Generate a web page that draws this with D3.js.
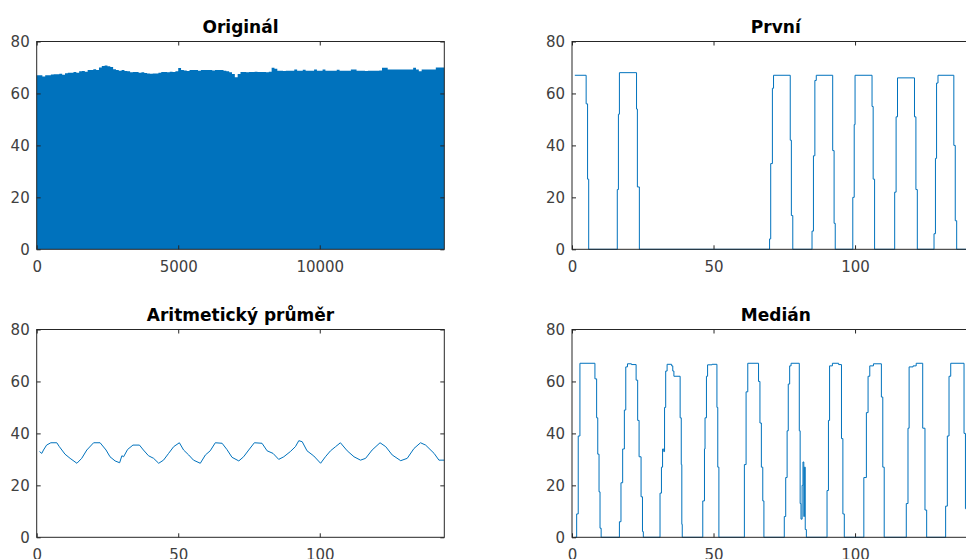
<!DOCTYPE html>
<html>
<head>
<meta charset="utf-8">
<script src="https://cdn.jsdelivr.net/npm/d3@7"></script>
<style>
  body { margin: 0; background: #fff; }
  svg { display: block; font-family: "DejaVu Sans", sans-serif; }
</style>
</head>
<body>
<svg id="chart" width="966" height="559"></svg>
<script>
// tick values
var yTicks = [0, 20, 40, 60, 80];
var xTicksOriginal = [0, 5000, 10000];
var xTicksShort = [0, 50, 100];

// Originál: top envelope of the raw signal, one value per 100 samples
var originalTop = [
  67, 67, 66.5, 67, 67, 67.3, 67.4, 67.4, 67.6, 67.2,
  67.8, 68, 68, 68.3, 68, 68.5, 68.6, 68.4, 69, 69,
  69.3, 69, 70, 70.6, 70.8, 70.5, 70.2, 69.3, 69, 68.7,
  69, 68.6, 68.5, 68.2, 68.3, 68.3, 68, 68.2, 67.9, 67.7,
  67.6, 67.7, 67.7, 68, 68.3, 68.3, 68.2, 68.4, 68.3, 68.5,
  69.8, 69, 68.8, 68.6, 69, 69, 69, 68.7, 69, 69,
  69, 69, 68.8, 69, 69, 69, 68.7, 68.5, 68.2, 67.5,
  66.2, 67.5, 68.3, 68.3, 68.2, 68.3, 68.3, 68.4, 68.3, 68.3,
  68.3, 68.2, 68.4, 69.9, 69.5, 68.7, 68.7, 68.6, 68.7, 68.7,
  68.7, 69.2, 68.7, 68.7, 69.1, 68.7, 68.7, 68.7, 69.2, 68.7,
  68.7, 69.2, 68.7, 68.7, 68.7, 68.7, 69.1, 68.7, 68.7, 68.7,
  68.7, 69.2, 69.2, 68.7, 68.7, 68.7, 68.6, 68.7, 68.7, 68.7,
  68.7, 68.8, 69.9, 69.9, 69.2, 69.2, 69.2, 69.2, 69.2, 69.2,
  69.2, 69.2, 69.2, 69.9, 69.2, 68.5, 69.2, 69.2, 69.2, 69.2,
  69.2, 70, 70, 70
];
var originalStep = 100;

// První (step vertices)
var prvniX = [1, 5, 5.5, 5.9, 16, 16.4, 16.75, 22.8, 23.1, 23.8,
  69.8, 70.2, 70.8, 71.2, 77.1, 77.5, 78,
  84.8, 85.3, 85.8, 86.3, 92.1, 92.6, 93,
  99.2, 99.7, 100, 106, 106.4, 106.9,
  114, 114.5, 115, 121, 121.5, 122,
  127.9, 128.4, 128.8, 129.3, 134.9, 135.4, 135.9, 144];
var prvniY = [67, 56, 27, 0, 23, 52, 68, 54, 24, 0,
  4, 33, 62, 67, 42, 13, 0,
  7, 36, 65, 67, 38, 10, 0,
  20, 48, 67, 55, 27, 0,
  22, 51, 66, 51, 23, 0,
  6, 35, 64, 67, 40, 11, 0, 0];

// Aritmetický průměr
var prumerX = [1, 1.8, 2.4, 3.5, 5, 7.1, 8, 10, 11.8, 14.2, 15.9, 17.7, 20.1, 22.4, 24.5,
  25.9, 27.7, 29.3, 30.1, 30.7, 32.1, 34, 36.3, 37.7, 39.5, 41.3, 43.1, 44.8, 46.6,
  48.4, 50.4, 51.9, 53.7, 55.4, 57.8, 59.6, 61.3, 63.1, 65.5, 67.2, 69, 71.4, 73.1,
  74.9, 76.9, 79.6, 81.4, 83.5, 85.5, 87.3, 89.6, 91.4, 92.6, 93.8, 95.5, 97.9,
  100.3, 102, 103.8, 105.6, 107.3, 109.7, 112.1, 114.4, 116.2, 118.5, 121.3, 123.3,
  125.6, 128.6, 130.9, 133.3, 135.6, 137.4, 140.4, 142.1, 144];
var prumerY = [33, 32.3, 33.6, 35.5, 36.4, 36.4, 34.9, 32, 30.4, 28.5, 30.4, 33.6, 36.4, 36.4, 33.6,
  31, 29.4, 28.7, 31.4, 31, 33.8, 35.5, 35.5, 33.6, 31.4, 30.4, 28.5, 29.7, 32.3,
  34.9, 36.4, 33.6, 31.7, 29.7, 28.5, 31.7, 33.3, 36.4, 36.2, 33.8, 30.8, 29.4, 31,
  33.6, 36.4, 36.2, 33.3, 32.3, 30, 31, 33, 34.9, 37.2, 36.8, 33.3, 31.3,
  28.5, 31, 33.3, 34.9, 36.4, 33.3, 31, 29.7, 30.4, 33.6, 36.4, 34.9,
  31.7, 29.5, 30.4, 34.2, 36.4, 35.5, 32.3, 29.7, 29.7];

// Medián (step vertices)
var medianX = [1, 1.65, 2.2, 2.8, 8.1, 8.7, 9.1, 9.55, 9.9, 10.3,
  16.75, 17.3, 17.9, 18.5, 19, 19.6, 21, 22.65, 23.2, 23.7, 24.4, 24.9, 25.2,
  31.1, 31.6, 32, 32.4, 32.7, 33.1, 33.6, 35.2, 35.6, 36, 38.2, 38.6, 38.8, 38.95,
  46.2, 46.8, 47, 47.5, 47.9, 49.5, 51.2, 51.5, 51.9,
  60.9, 61.5, 62.1, 65.9, 66.4, 66.9, 67.4, 67.8,
  75, 75.5, 76, 76.4, 76.9, 77.4, 80.3, 80.6, 80.9, 81.3, 81.6, 81.9, 82.1, 82.4, 82.8,
  90.1, 90.6, 91, 92, 94.2, 95.2, 95.7, 96.2,
  103.1, 104, 104.6, 105.2, 106.5, 109.3, 109.8, 110.3,
  118.1, 118.7, 119.1, 120.5, 121.6, 123.9, 124.7, 125.3,
  132, 132.6, 133.2, 133.8, 138.5, 139, 139.5, 144];
var medianY = [0, 9, 39, 67, 61, 46, 32, 17.5, 3.5, 0,
  6, 21, 34, 49, 65.6, 66.8, 66.5, 60.5, 45, 31, 15.6, 2.2, 0,
  17, 27, 34, 33, 50, 64, 66.6, 66, 64, 62, 46, 28, 5, 0,
  14, 34, 46, 62, 66.4, 66.6, 50, 27, 0,
  28, 56, 67, 60, 44, 27, 14, 0,
  8, 23, 41, 59, 66, 67, 41, 13, 7, 20, 29, 8, 27, 3, 0,
  18, 45, 66, 67, 66.5, 38, 9, 0,
  23, 48, 62, 66, 66.8, 54, 27, 0,
  13, 42, 65.6, 66, 67, 42, 10.5, 0,
  12, 39, 62, 67, 40, 11, 0, 0];

var blue = '#0072BD';
var axisColor = '#262626';
var plotW = 407.6, plotH = 207.8;

var svg = d3.select('#chart');

function makePanel(opts) {
  var x = d3.scaleLinear().domain(opts.xDomain).range([0, plotW]);
  var y = d3.scaleLinear().domain([0, 80]).range([plotH, 0]);

  var g = svg.append('g')
    .attr('transform', 'translate(' + opts.left + ',' + opts.top + ')');

  // title
  g.append('text')
    .attr('x', plotW / 2)
    .attr('y', -8.5)
    .attr('text-anchor', 'middle')
    .attr('font-size', 17)
    .attr('font-weight', 'bold')
    .attr('fill', '#000')
    .text(opts.title);

  var plot = g.append('g');

  // box
  g.append('rect')
    .attr('width', plotW)
    .attr('height', plotH)
    .attr('fill', 'none')
    .attr('stroke', axisColor)
    .attr('stroke-width', 1);

  // axes, ticks pointing inward like matlab
  g.append('g')
    .attr('transform', 'translate(0,' + plotH + ')')
    .call(d3.axisBottom(x).tickValues(opts.xTicks).tickFormat(d3.format('d'))
      .tickSizeInner(-4).tickSizeOuter(0).tickPadding(12));
  g.append('g')
    .call(d3.axisLeft(y).tickValues(yTicks).tickFormat(d3.format('d'))
      .tickSizeInner(-4).tickSizeOuter(0).tickPadding(7));
  g.append('g')
    .call(d3.axisTop(x).tickValues(opts.xTicks).tickSizeInner(-4).tickSizeOuter(0).tickFormat(''));
  g.append('g')
    .attr('transform', 'translate(' + plotW + ',0)')
    .call(d3.axisRight(y).tickValues(yTicks).tickSizeInner(-4).tickSizeOuter(0).tickFormat(''));

  g.selectAll('.domain').remove();
  g.selectAll('.tick line').attr('stroke', axisColor);
  g.selectAll('.tick text')
    .attr('fill', '#404040')
    .attr('font-size', 15)
    .attr('font-family', '"DejaVu Sans", sans-serif');

  return { plot: plot, x: x, y: y };
}

// Originál
var p1 = makePanel({ title: 'Originál', left: 36.7, top: 41.5, xDomain: [0, 14400], xTicks: xTicksOriginal });
var origPts = originalTop.map(function(v, i) { return [i * originalStep, v]; });
origPts.push([originalTop.length * originalStep, originalTop[originalTop.length - 1]]);
p1.plot.append('path')
  .datum(origPts)
  .attr('fill', blue)
  .attr('d', d3.area()
    .curve(d3.curveStepAfter)
    .x(function(d) { return p1.x(d[0]); })
    .y0(p1.y(0))
    .y1(function(d) { return p1.y(d[1]); }));

// První
var p2 = makePanel({ title: 'První', left: 572, top: 41.5, xDomain: [0, 144], xTicks: xTicksShort });
p2.plot.append('path')
  .datum(d3.zip(prvniX, prvniY))
  .attr('fill', 'none')
  .attr('stroke', blue)
  .attr('stroke-width', 1)
  .attr('d', d3.line()
    .curve(d3.curveStepAfter)
    .x(function(d) { return p2.x(d[0]); })
    .y(function(d) { return p2.y(d[1]); }));

// Aritmetický průměr
var p3 = makePanel({ title: 'Aritmetický průměr', left: 36.7, top: 329.5, xDomain: [0, 144], xTicks: xTicksShort });
p3.plot.append('path')
  .datum(d3.zip(prumerX, prumerY))
  .attr('fill', 'none')
  .attr('stroke', blue)
  .attr('stroke-width', 1)
  .attr('d', d3.line()
    .x(function(d) { return p3.x(d[0]); })
    .y(function(d) { return p3.y(d[1]); }));

// Medián
var p4 = makePanel({ title: 'Medián', left: 572, top: 329.5, xDomain: [0, 144], xTicks: xTicksShort });
p4.plot.append('path')
  .datum(d3.zip(medianX, medianY))
  .attr('fill', 'none')
  .attr('stroke', blue)
  .attr('stroke-width', 1)
  .attr('d', d3.line()
    .curve(d3.curveStepAfter)
    .x(function(d) { return p4.x(d[0]); })
    .y(function(d) { return p4.y(d[1]); }));
</script>
</body>
</html>
